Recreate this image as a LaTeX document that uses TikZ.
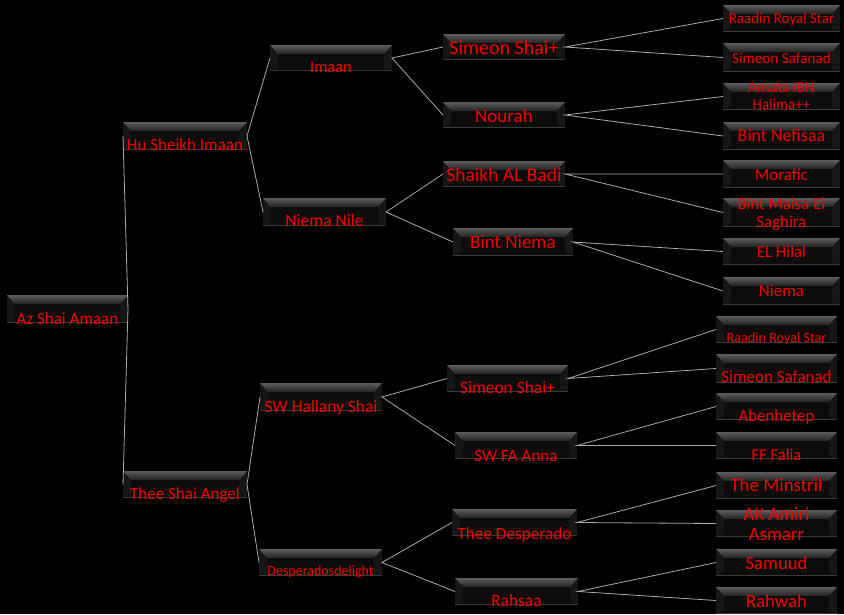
\documentclass[tikz,border=0pt]{standalone}
\usepackage{fontspec}
\setmainfont{Carlito}
\definecolor{bevA}{RGB}{92,92,92}
\definecolor{bevB}{RGB}{34,34,34}
\definecolor{bodyc}{RGB}{12,12,12}
\definecolor{sidec}{RGB}{22,22,22}
\definecolor{botc}{RGB}{58,58,58}
\definecolor{connc}{RGB}{170,170,170}
\definecolor{txtc}{RGB}{245,0,0}
\tikzset{
  pbox/.style={draw=none, fill=bodyc, inner sep=0pt, outer sep=0pt,
    path picture={
      \fill[sidec] (path picture bounding box.north west) -- ([shift={(8pt,-9pt)}]path picture bounding box.north west) -- ([shift={(8pt,3pt)}]path picture bounding box.south west) -- (path picture bounding box.south west) -- cycle;
      \fill[sidec] (path picture bounding box.north east) -- ([shift={(-8pt,-9pt)}]path picture bounding box.north east) -- ([shift={(-8pt,3pt)}]path picture bounding box.south east) -- (path picture bounding box.south east) -- cycle;
      \shade[top color=bevA, bottom color=bevB] (path picture bounding box.north west) -- (path picture bounding box.north east) -- ([shift={(-8pt,-9pt)}]path picture bounding box.north east) -- ([shift={(8pt,-9pt)}]path picture bounding box.north west) -- cycle;
      \fill[botc] ([yshift=1.5pt]path picture bounding box.south west) rectangle (path picture bounding box.south east);
    }},
  ptext/.style={text=txtc, inner sep=0pt, outer sep=0pt, align=center},
  conn/.style={draw=connc, line width=0.8pt}
}
% name, x1, x2, y1, y2, font size, leading, baseline (of last line), text
\newcommand\pbx[9]{%
  \node[pbox, minimum width={#3-#2}, minimum height={#5-#4}] (#1) at ({(#2+#3)/2},{(#4+#5)/2}) {};
  \node[ptext, font=\fontsize{#6}{#7}\selectfont, anchor=base] (#1-t) at ({(#2+#3)/2},#8) {#9};
}
\begin{document}
\begin{tikzpicture}[x=1pt,y=-1pt]
\fill[black] (0,0) rectangle (844,614);
\useasboundingbox (0,0) rectangle (844,614);
% level 0
\pbx{a0}{7}{128}{295}{323}{17}{18}{324}{Az Shai Amaan}
% level 1
\pbx{b1}{123}{247}{122}{150}{17}{18}{150}{Hu Sheikh Imaan}
\pbx{b2}{123}{247}{471}{498}{17}{18}{499}{Thee Shai Angel}
% level 2
\pbx{c1}{270}{392}{45}{71}{16.5}{18}{72}{Imaan}
\pbx{c2}{263}{386}{198}{226}{17.5}{18}{226}{Niema Nile}
\pbx{c3}{260}{382}{383}{411}{17.4}{18}{412}{SW Hallany Shai}
\pbx{c4}{259}{382}{549}{576}{14}{16}{575}{Desperadosdelight}
% level 3
\pbx{d1}{443}{565}{34}{60}{20}{21}{54}{Simeon Shai+}
\pbx{d2}{443}{565}{102}{128}{19}{21}{122}{Nourah}
\pbx{d3}{443}{565}{161}{187}{19.5}{21}{181}{Shaikh AL Badi}
\pbx{d4}{453}{573}{228}{256}{19}{21}{248}{Bint Niema}
\pbx{d5}{447}{568}{365}{392}{17.4}{18}{393}{Simeon Shai+}
\pbx{d6}{455}{577}{432}{459}{17}{18}{461}{SW FA Anna}
\pbx{d7}{452}{577}{509}{536}{17.2}{18}{539}{Thee Desperado}
\pbx{d8}{455}{578}{578}{605}{17.3}{18}{606}{Rahsaa}
% level 4 (upper)
\pbx{e1}{723}{840}{5}{32}{15}{16}{23}{Raadin Royal Star}
\pbx{e2}{723}{840}{43}{72}{15.2}{16}{63}{Simeon Safanad}
\pbx{e3}{723}{840}{83}{110}{15}{16.5}{109}{Ansata IBN\\Halima++}
\pbx{e4}{723}{840}{122}{150}{18}{19}{141}{Bint Nefisaa}
\pbx{e5}{723}{840}{160}{188}{17}{18}{180}{Morafic}
\pbx{e6}{723}{840}{198}{227}{16.8}{18}{227}{Bint Maisa El\\Saghira}
\pbx{e7}{723}{840}{238}{265}{16.8}{18}{257}{EL Hilal}
\pbx{e8}{723}{840}{277}{305}{17}{18}{296}{Niema}
% level 4 (lower)
\pbx{f1}{716}{837}{316}{343}{14.2}{16}{342}{Raadin Royal Star}
\pbx{f2}{716}{837}{354}{383}{17}{18}{382}{Simeon Safanad}
\pbx{f3}{716}{837}{393}{420}{16.9}{18}{421}{Abenhetep}
\pbx{f4}{716}{837}{432}{459}{16.6}{18}{460}{FF Falia}
\pbx{f5}{716}{837}{472}{499}{18.9}{20}{491}{The Minstril}
\pbx{f6}{716}{837}{510}{537}{18.7}{20}{540}{AK Amiri\\Asmarr}
\pbx{f7}{716}{837}{549}{576}{18.7}{20}{569}{Samuud}
\pbx{f8}{716}{837}{587}{614}{18.7}{20}{607}{Rahwah}
% connectors
\draw[conn] (b1.west) -- (a0.east) -- (b2.west);
\draw[conn] (c1.west) -- (b1.east) -- (c2.west);
\draw[conn] (c3.west) -- (b2.east) -- (c4.west);
\draw[conn] (d1.west) -- (c1.east) -- (d2.west);
\draw[conn] (d3.west) -- (c2.east) -- (d4.west);
\draw[conn] (d5.west) -- (c3.east) -- (d6.west);
\draw[conn] (d7.west) -- (c4.east) -- (d8.west);
\draw[conn] (e1.west) -- (d1.east) -- (e2.west);
\draw[conn] (e3.west) -- (d2.east) -- (e4.west);
\draw[conn] (e5.west) -- (d3.east) -- (e6.west);
\draw[conn] (e7.west) -- (d4.east) -- (e8.west);
\draw[conn] (f1.west) -- (d5.east) -- (f2.west);
\draw[conn] (f3.west) -- (d6.east) -- (f4.west);
\draw[conn] (f5.west) -- (d7.east) -- (f6.west);
\draw[conn] (f7.west) -- (d8.east) -- (f8.west);
\end{tikzpicture}
\end{document}
